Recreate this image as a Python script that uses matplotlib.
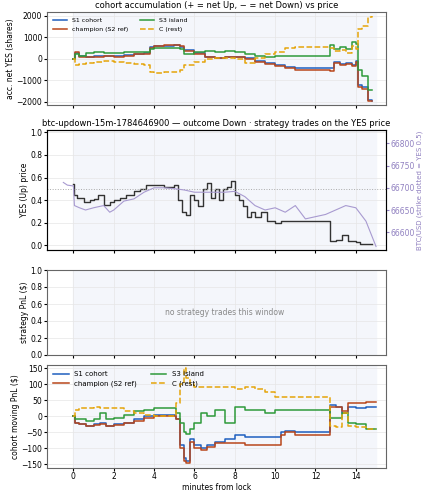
import matplotlib
matplotlib.use("Agg")
import matplotlib.pyplot as plt

# ---- data ----
t_acc = [0, 0.1, 0.3, 0.6, 1.0, 1.5, 2.0, 2.5, 3.0, 3.5, 3.8, 4.0, 4.5, 5.0, 5.3, 5.5, 6.0, 6.5, 7.0, 7.5, 8.0, 8.5, 9.0, 9.5, 10.0, 10.5, 11.0, 12.0, 12.5, 12.7, 12.9, 13.2, 13.5, 13.8, 14.0, 14.1, 14.3, 14.6, 14.8]
s1_acc = [0, 250, 150, 100, 120, 150, 120, 180, 220, 250, 550, 580, 600, 620, 550, 400, 250, 100, 50, 80, 100, 50, -100, -200, -300, -400, -450, -450, -450, -450, -150, -250, -200, -300, -100, -1200, -1300, -1900, -1950]
ch_acc = [0, 300, 100, 80, 100, 130, 100, 150, 200, 220, 520, 600, 650, 650, 600, 350, 200, 80, 30, 60, 80, 0, -150, -250, -350, -450, -500, -500, -500, -550, -200, -300, -250, -350, -150, -1300, -1400, -1950, -1950]
s3_acc = [0, 200, 150, 250, 300, 280, 250, 300, 320, 300, 450, 500, 500, 480, 450, 200, 300, 350, 300, 350, 300, 200, 150, 100, 150, 150, 150, 150, 150, 650, 450, 550, 450, 800, 700, -500, -800, -1450, -1450]
c_acc = [0, -300, -250, -200, -150, -100, -150, -200, -250, -300, -600, -650, -600, -600, -500, -300, -150, 0, 50, 50, 0, -200, 50, 200, 300, 500, 550, 550, 550, 500, 350, 400, 250, 600, 450, 1400, 1500, 1950, 2000]

t_px = [0, 0.05, 0.2, 0.5, 0.8, 1.0, 1.2, 1.5, 1.8, 2.0, 2.3, 2.6, 3.0, 3.3, 3.6, 4.0, 4.5, 5.0, 5.2, 5.4, 5.6, 5.8, 6.0, 6.2, 6.4, 6.6, 6.8, 7.0, 7.2, 7.4, 7.6, 7.8, 8.0, 8.2, 8.4, 8.6, 8.8, 9.0, 9.3, 9.6, 10.0, 10.3, 10.6, 11.0, 12.0, 12.6, 12.7, 13.0, 13.3, 13.6, 14.0, 14.2, 14.8]
yes_px = [0.54, 0.45, 0.42, 0.38, 0.40, 0.41, 0.45, 0.36, 0.38, 0.40, 0.42, 0.45, 0.48, 0.50, 0.53, 0.53, 0.52, 0.53, 0.40, 0.30, 0.27, 0.45, 0.40, 0.35, 0.50, 0.55, 0.42, 0.50, 0.40, 0.50, 0.52, 0.57, 0.45, 0.40, 0.35, 0.25, 0.30, 0.25, 0.30, 0.22, 0.20, 0.22, 0.22, 0.22, 0.22, 0.22, 0.04, 0.05, 0.09, 0.04, 0.03, 0.01, 0.01]
t_btc = [-0.5, -0.3, 0, 0.05, 0.3, 0.6, 1.0, 1.5, 1.8, 2.0, 2.5, 3.0, 3.5, 4.0, 4.5, 5.0, 5.5, 6.0, 6.5, 7.0, 7.5, 8.0, 8.5, 9.0, 9.5, 10.0, 10.5, 11.0, 11.5, 12.0, 12.5, 13.0, 13.5, 14.0, 14.5, 15.0]
btc_px = [66712, 66706, 66704, 66660, 66655, 66650, 66655, 66660, 66645, 66650, 66670, 66675, 66690, 66700, 66700, 66698, 66695, 66690, 66690, 66690, 66690, 66692, 66680, 66660, 66650, 66655, 66645, 66660, 66630, 66635, 66640, 66650, 66660, 66655, 66625, 66568]

t_pnl = [0, 0.1, 0.3, 0.6, 1.0, 1.3, 1.6, 2.0, 2.5, 3.0, 3.5, 4.0, 4.5, 5.0, 5.1, 5.3, 5.5, 5.6, 5.8, 6.0, 6.3, 6.6, 7.0, 7.5, 8.0, 8.5, 9.0, 9.5, 10.0, 10.3, 10.5, 11.0, 12.0, 12.6, 12.7, 13.0, 13.3, 13.6, 14.0, 14.5, 15.0]
s1_pnl = [0, -20, -25, -30, -25, -20, -30, -25, -20, -10, 0, 5, 5, 5, -10, -90, -130, -140, -70, -90, -100, -90, -80, -70, -60, -65, -65, -65, -65, -50, -45, -50, -50, -50, 35, 30, 10, 30, 25, 30, 30]
ch_pnl = [0, -20, -25, -30, -28, -25, -30, -28, -20, -15, -5, 0, 0, 0, -10, -100, -140, -145, -80, -100, -105, -95, -85, -85, -85, -90, -90, -90, -90, -60, -50, -60, -60, -60, 30, 30, 15, 40, 40, 45, 45]
s3_pnl = [0, -10, -10, -15, -10, 10, -10, -5, 5, 15, 20, 25, 25, 25, 10, -20, -50, -55, -40, -20, 10, 0, 20, -20, 30, 20, 20, 10, 20, 20, 20, 20, 20, 20, -5, -5, 10, -20, -25, -40, -40]
c_pnl = [0, 20, 25, 25, 30, 25, 25, 25, 15, 10, 5, 0, 0, 0, 40, 100, 150, 120, 100, 90, 90, 90, 90, 90, 85, 90, 85, 75, 60, 60, 60, 60, 60, 60, -30, -35, 10, -30, -35, -40, -40]

series = ["S1 cohort", "champion (S2 ref)", "S3 island", "C (rest)"]
colors = ["#1f5fbf", "#b8461b", "#2e9a3a", "#e5a50a"]
styles = ["-", "-", "-", "--"]
strike_yes = 0.5

plt.rcParams['font.family'] = ['DejaVu Sans']
fig = plt.figure(figsize=(4.29, 5.0), dpi=100)
bg = "#f4f6fb"

def setup(ax):
    ax.set_xlim(-1.3, 15.5)
    ax.axvspan(0, 15, color=bg, zorder=0)
    ax.grid(True, color="#e6e6e6", lw=0.5)
    ax.tick_params(labelsize=5.5, length=2, pad=1.5)
    for s in ax.spines.values():
        s.set_color("#666")

L, W = 0.11, 0.79
ax1 = fig.add_axes([L, 0.79, W, 0.185])
ax2 = fig.add_axes([L, 0.50, W, 0.24])
ax3 = fig.add_axes([L, 0.29, W, 0.17])
ax4 = fig.add_axes([L, 0.065, W, 0.205])
for a in (ax1, ax2, ax3, ax4):
    setup(a)

for d, c, ls, lab in zip([s1_acc, ch_acc, s3_acc, c_acc], colors, styles, series):
    ax1.step(t_acc, d, where="post", color=c, ls=ls, lw=1.1, label=lab)
ax1.set_ylim(-2150, 2150)
ax1.set_yticks([-2000, -1000, 0, 1000, 2000])
ax1.set_xticks(range(0, 15, 2)); ax1.set_xticklabels([])
ax1.set_ylabel("acc. net YES (shares)", fontsize=5.5, labelpad=1)
ax1.set_title("cohort accumulation (+ = net Up, − = net Down) vs price", fontsize=6, pad=3)
ax1.legend(ncol=2, fontsize=4.5, loc="upper left", frameon=False, handlelength=2.2)

ax2.step(t_px, yes_px, where="post", color="#333", lw=1.0)
ax2.axhline(strike_yes, color="#aaa", ls=":", lw=0.7)
ax2.set_ylim(-0.04, 1.02)
ax2.set_yticks([0, 0.2, 0.4, 0.6, 0.8, 1.0])
ax2.set_xticks(range(0, 15, 2)); ax2.set_xticklabels([])
ax2.set_ylabel("YES (Up) price", fontsize=5.5, labelpad=1)
ax2.set_title("btc-updown-15m-1784646900 — outcome Down · strategy trades on the YES price", fontsize=6, pad=3)
tw = ax2.twinx()
tw.plot(t_btc, btc_px, color="#a89ad0", lw=0.8)
tw.set_ylim(66560, 66830)
tw.set_yticks([66600, 66650, 66700, 66750, 66800])
tw.tick_params(labelsize=5.5, colors="#9080c0", length=2, pad=1.5)
tw.set_ylabel("BTC/USD (strike dotted = YES 0.5)", fontsize=5, color="#9080c0", labelpad=1)

ax3.set_ylim(0, 1)
ax3.set_yticks([0, 0.2, 0.4, 0.6, 0.8, 1.0])
ax3.set_xticks(range(0, 15, 2)); ax3.set_xticklabels([])
ax3.set_ylabel("strategy PnL ($)", fontsize=5.5, labelpad=1)
ax3.text(7.5, 0.5, "no strategy trades this window", ha="center", va="center", fontsize=5.5, color="#888")

for d, c, ls, lab in zip([s1_pnl, ch_pnl, s3_pnl, c_pnl], colors, styles, series):
    ax4.step(t_pnl, d, where="post", color=c, ls=ls, lw=1.1, label=lab)
ax4.set_ylim(-160, 160)
ax4.set_yticks([-150, -100, -50, 0, 50, 100, 150])
ax4.set_xticks(range(0, 15, 2))
ax4.set_ylabel("cohort moving PnL ($)", fontsize=5.5, labelpad=1)
ax4.set_xlabel("minutes from lock", fontsize=5.5, labelpad=1)
ax4.legend(ncol=2, fontsize=5, loc="upper left", frameon=False, handlelength=2.2)

fig.savefig("out.png", dpi=100)
